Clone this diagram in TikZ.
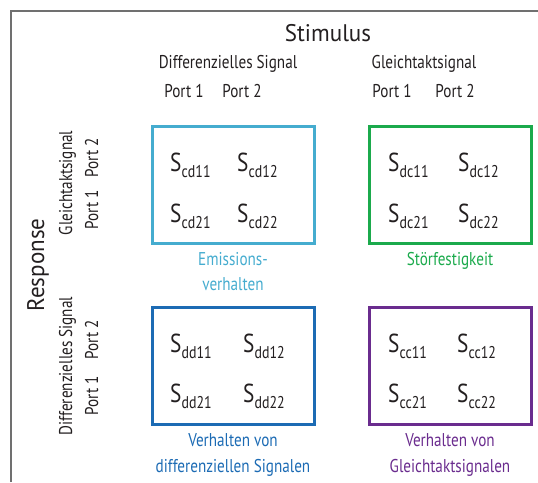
\documentclass[tikz,border=0pt]{standalone}
\usepackage{fontspec}
\setmainfont{PT Sans}[FakeStretch=0.82]
\newfontfamily\bigfont{PT Sans}[FakeStretch=0.96]
\definecolor{txt}{HTML}{231F20}
\definecolor{cdcol}{HTML}{45ACCF}
\definecolor{dccol}{HTML}{1BAA4C}
\definecolor{ddcol}{HTML}{1C6BB4}
\definecolor{cccol}{HTML}{6A2C8E}
\definecolor{framecol}{HTML}{707070}
\newcommand\Sent[1]{S\kern0.3pt\raisebox{-6pt}{\fontsize{17}{17}\selectfont #1}}
\begin{document}
\begin{tikzpicture}[x=1pt,y=-1pt,
  every node/.style={inner sep=0pt, outer sep=0pt, text=txt},
  head/.style={font=\fontsize{18.5}{20}\selectfont, anchor=base},
  big/.style={font=\bigfont\fontsize{24}{26}\selectfont, anchor=base},
  sent/.style={font=\fontsize{26}{28}\selectfont, anchor=base west},
  lab/.style={font=\fontsize{18.5}{20}\selectfont, anchor=base, align=center},
  matbox/.style={draw, line width=3pt, minimum width=162pt, minimum height=117pt}]
\useasboundingbox (0,0) rectangle (538,482);
\draw[framecol, line width=1.5pt] (11,482) -- (11,10.75) -- (538,10.75);
% top headings
\node[big] (stim) at (328,41) {Stimulus};
\node[head] (hdiff) at (228,68) {Differenzielles Signal};
\node[head] (hgl) at (424,68) {Gleichtaktsignal};
\node[head] (tp1a) at (184,97) {Port 1};
\node[head] (tp2a) at (242,97) {Port 2};
\node[head] (tp1b) at (392,97) {Port 1};
\node[head] (tp2b) at (455,97) {Port 2};
% left headings
\node[big, rotate=90] (resp) at (44,265) {Response};
\node[head, rotate=90] (vgl) at (72,183) {Gleichtaktsignal};
\node[head, rotate=90] (lp2a) at (98,158) {Port 2};
\node[head, rotate=90] (lp1a) at (98,210) {Port 1};
\node[head, rotate=90] (vdiff) at (72,366) {Differenzielles Signal};
\node[head, rotate=90] (lp2b) at (98,340) {Port 2};
\node[head, rotate=90] (lp1b) at (98,396) {Port 1};
% boxes
\node[matbox, draw=cdcol] (bcd) at (233.5,185) {};
\node[matbox, draw=dccol] (bdc) at (450.5,185) {};
\node[matbox, draw=ddcol] (bdd) at (233.5,366) {};
\node[matbox, draw=cccol] (bcc) at (450.5,366) {};
% entries
\node[sent] (cd11) at (170,171) {\Sent{cd11}};
\node[sent] (cd12) at (237,171) {\Sent{cd12}};
\node[sent] (cd21) at (170,222) {\Sent{cd21}};
\node[sent] (cd22) at (237,222) {\Sent{cd22}};
\node[sent] (dc11) at (388,171) {\Sent{dc11}};
\node[sent] (dc12) at (458,171) {\Sent{dc12}};
\node[sent] (dc21) at (388,222) {\Sent{dc21}};
\node[sent] (dc22) at (458,222) {\Sent{dc22}};
\node[sent] (dd11) at (170,352) {\Sent{dd11}};
\node[sent] (dd12) at (243,352) {\Sent{dd12}};
\node[sent] (dd21) at (170,402) {\Sent{dd21}};
\node[sent] (dd22) at (243,402) {\Sent{dd22}};
\node[sent] (cc11) at (388,352) {\Sent{cc11}};
\node[sent] (cc12) at (457,352) {\Sent{cc12}};
\node[sent] (cc21) at (388,402) {\Sent{cc21}};
\node[sent] (cc22) at (457,402) {\Sent{cc22}};
% captions
\node[lab, text=cdcol] (lcd1) at (233,265) {Emissions-};
\node[lab, text=cdcol] (lcd2) at (233,290) {verhalten};
\node[lab, text=dccol] (ldc) at (450,265) {Störfestigkeit};
\node[lab, text=ddcol] (ldd1) at (233,446) {Verhalten von};
\node[lab, text=ddcol] (ldd2) at (233,472) {differenziellen Signalen};
\node[lab, text=cccol] (lcc1) at (450,446) {Verhalten von};
\node[lab, text=cccol] (lcc2) at (450,472) {Gleichtaktsignalen};
\end{tikzpicture}
\end{document}
